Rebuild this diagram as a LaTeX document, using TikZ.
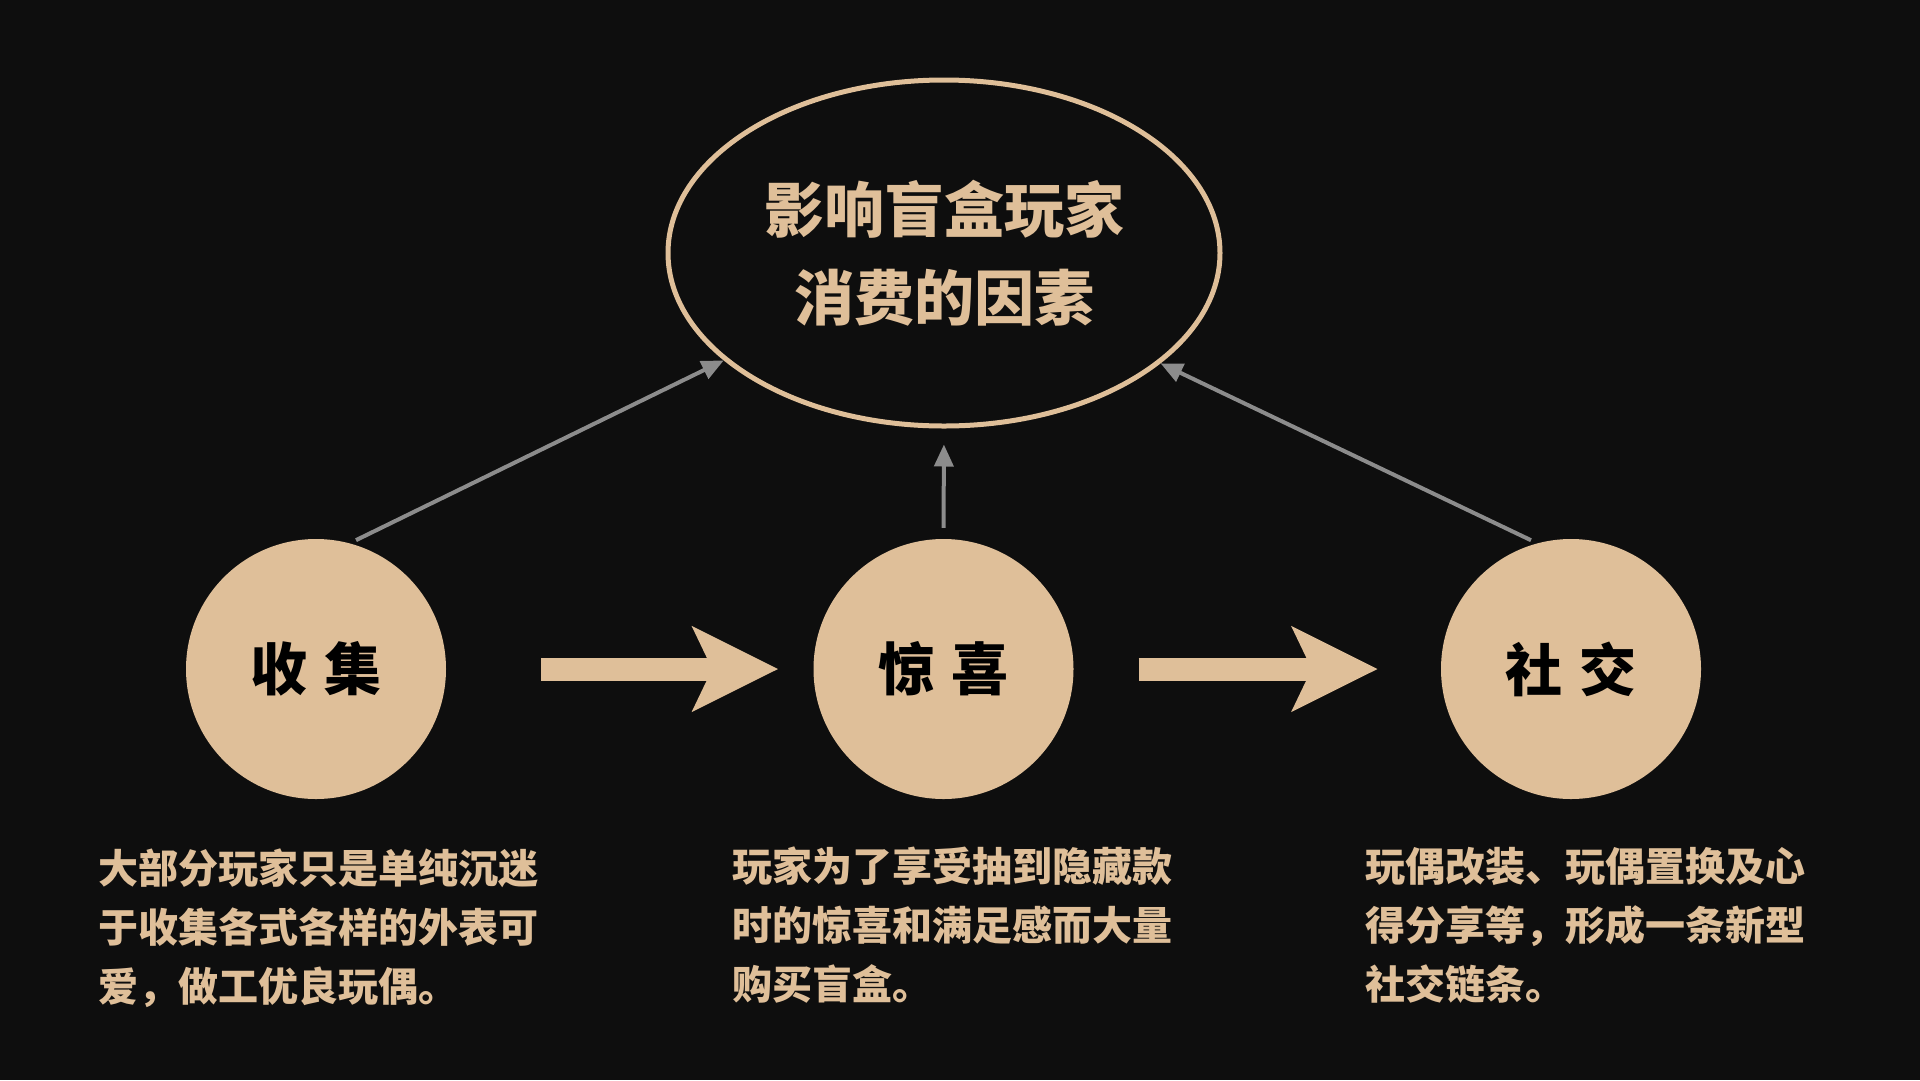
\documentclass[tikz,border=0pt]{standalone}
\usepackage{fontspec}
\usepackage{xcolor}
\usetikzlibrary{arrows.meta,shapes.geometric}
\newfontfamily\cjk{Noto Sans CJK SC}
\definecolor{bgdark}{RGB}{14,14,14}
\definecolor{tan}{RGB}{223,191,153}
\definecolor{linkgray}{RGB}{140,140,140}

\begin{document}
\begin{tikzpicture}[x=1pt,y=-1pt,node distance=627.5pt,
    topic node/.style={ellipse,draw=tan,line width=5pt,minimum width=552pt,minimum height=346pt,inner sep=0pt,
        text=tan,align=center,font=\cjk\bfseries\fontsize{60}{88}\selectfont},
    main node/.style={circle,fill=tan,minimum size=260pt,inner sep=0pt,text=black,font=\cjk\bfseries\fontsize{57}{60}\selectfont},
    desc node/.style={anchor=west,inner sep=0pt,text=tan,align=left,font=\cjk\bfseries\fontsize{40}{59}\selectfont},
    flow/.style={draw=tan,line width=23pt,-{Stealth[length=85pt,width=83pt,inset=19pt]}},
    link/.style={draw=linkgray,line width=4pt,-{Triangle[length=22pt,width=19pt]}}]

    \useasboundingbox[fill=bgdark] (0,0) rectangle (1920,1080);

    \node[topic node] (topic) at (944,253) {影响盲盒玩家\\消费的因素};

    \node[main node] (collect) at (316,669) {收\hspace{17pt}集};
    \node[main node] (surprise) [right of = collect] {惊\hspace{17pt}喜};
    \node[main node] (social) [right of = surprise] {社\hspace{17pt}交};

    \node[desc node] (collectText) at (98,928) {大部分玩家只是单纯沉迷\\于收集各式各样的外表可\\爱，做工优良玩偶。};
    \node[desc node] (surpriseText) at (732,925) {玩家为了享受抽到隐藏款\\时的惊喜和满足感而大量\\购买盲盒。};
    \node[desc node] (socialText) at (1365,925) {玩偶改装、玩偶置换及心\\得分享等，形成一条新型\\社交链条。};

    \draw[flow,shorten <=95pt,shorten >=35pt] (collect) to (surprise);
    \draw[flow,shorten <=65pt,shorten >=63pt] (surprise) to (social);

    \draw[link,shorten <=7pt] (collect.75) to (topic.206.6);
    \draw[link,shorten <=11pt,shorten >=16pt] (surprise.north) to (topic.south);
    \draw[link,shorten <=7pt] (social.105) to (topic.333.4);

\end{tikzpicture}
\end{document}
